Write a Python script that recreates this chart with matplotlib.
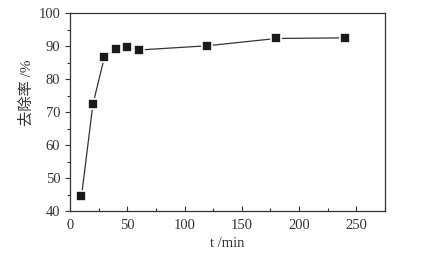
import matplotlib
matplotlib.use("Agg")
import matplotlib.pyplot as plt
from matplotlib.ticker import MultipleLocator

t_min = [10, 20, 30, 40, 50, 60, 120, 180, 240]
removal = [44.5, 72.5, 86.7, 89.2, 89.7, 88.9, 90.2, 92.4, 92.6]
xticks = [0, 50, 100, 150, 200, 250]
yticks = [40, 50, 60, 70, 80, 90, 100]

serif = ['Liberation Serif', 'Noto Sans CJK SC']
plt.rcParams['font.family'] = serif

fig = plt.figure(figsize=(4.22, 2.59), dpi=100)
ax = fig.add_axes([0.166, 0.185, 0.746, 0.763])

ax.plot(t_min, removal, color='#333333', lw=0.9, marker='s', ms=6.5,
        mfc='#1a1a1a', mec='white', mew=1.2)

ax.set_xlim(0, 275)
ax.set_ylim(40, 100)
ax.set_xticks(xticks)
ax.set_yticks(yticks)
ax.xaxis.set_minor_locator(MultipleLocator(25))
ax.yaxis.set_minor_locator(MultipleLocator(5))
ax.tick_params(axis='x', which='both', direction='in', top=False, labelsize=10.5, pad=6, colors='#333333')
ax.tick_params(axis='y', which='both', direction='out', right=False, labelsize=10.5, colors='#333333')
ax.tick_params(which='major', length=3.5, width=0.8)
ax.tick_params(which='minor', length=2, width=0.8)
for s in ax.spines.values():
    s.set_linewidth(0.9)
    s.set_color('#333333')

ax.set_xlabel('t /min', fontsize=10.5, color='#333333', labelpad=3)
ax.set_ylabel('去除率 /%', fontsize=11, color='#333333')
ax.yaxis.set_label_coords(-0.117, 0.6)

fig.savefig('out.png', dpi=100)
